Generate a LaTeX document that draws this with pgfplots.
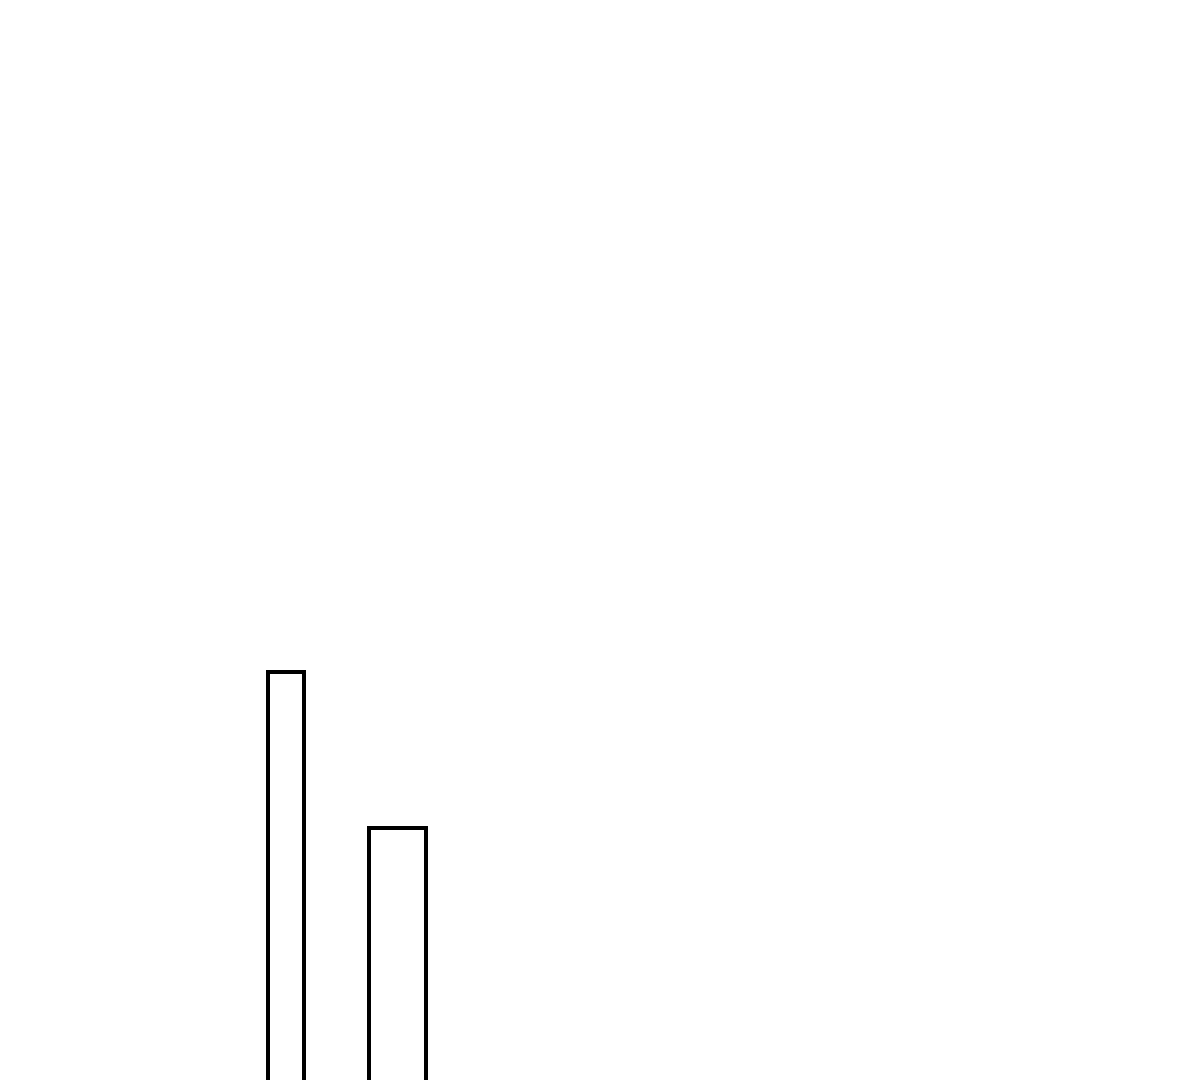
\documentclass[border=0pt]{standalone}
\usepackage{pgfplots}
\pgfplotsset{compat=1.18}
\begin{document}
\begin{tikzpicture}
\useasboundingbox (0,0) rectangle (12cm,10.8cm);
\begin{axis}[
  at={(0,0)}, anchor=south west,
  scale only axis, width=12cm, height=10.8cm,
  hide axis,
  xmin=0, xmax=1200, ymin=0, ymax=1080,
  clip=true,
]
% bar outlines, open at the bottom (the bars run past the lower edge)
\addplot[sharp plot, no marks, draw=black, line width=1.15pt, line join=miter]
  coordinates {(268,-20) (268,408) (304,408) (304,-20)};
\addplot[sharp plot, no marks, draw=black, line width=1.15pt, line join=miter]
  coordinates {(369,-20) (369,252) (426,252) (426,-20)};
\end{axis}
\end{tikzpicture}
\end{document}
